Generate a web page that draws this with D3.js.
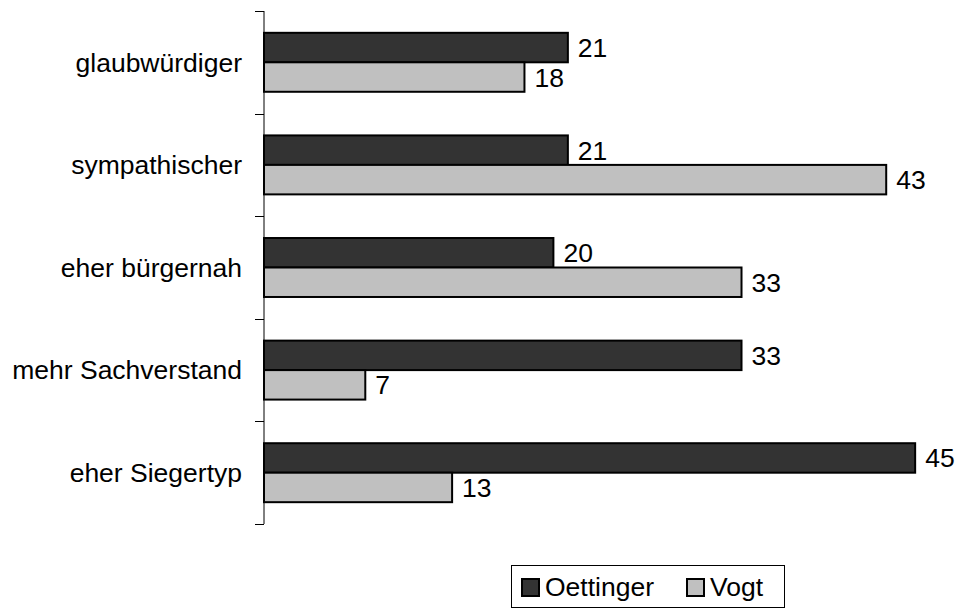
<!DOCTYPE html>
<html><head><meta charset="utf-8">
<script src="https://cdn.jsdelivr.net/npm/d3@7"></script>
<style>body{margin:0;background:#fff}svg{display:block}text{font-family:"Liberation Sans",Arial,sans-serif}</style>
</head><body>
<svg id="c" width="959" height="610"></svg>
<script>
const categories = ["glaubwürdiger","sympathischer","eher bürgernah","mehr Sachverstand","eher Siegertyp"];
const oettinger = [21,21,20,33,45];
const vogt = [18,43,33,7,13];
const seriesNames = ["Oettinger","Vogt"];
const colors = ["#333333","#c0c0c0"];

const svg = d3.select("#c");
const x0 = 264, xMax = 45, fs = 26.5;
const x = d3.scaleLinear().domain([0, xMax]).range([x0, x0 + 14.47*xMax]);
const y = d3.scaleBand().domain(categories).range([11, 524]).paddingInner(0).paddingOuter(0);
const inner = d3.scaleBand().domain(seriesNames).range([0, y.bandwidth()]).paddingInner(0).paddingOuter(0.74);

// axis line and ticks
svg.append("line").attr("x1",x0).attr("x2",x0).attr("y1",11).attr("y2",524).attr("stroke","#000").attr("stroke-width",1);
const tickPos = categories.map(c=>y(c)).concat([y(categories[categories.length-1])+y.bandwidth()]);
svg.selectAll("line.tick").data(tickPos).join("line").attr("class","tick")
  .attr("x1",x0-9).attr("x2",x0).attr("y1",d=>Math.round(d)+0.5).attr("y2",d=>Math.round(d)+0.5)
  .attr("stroke","#000").attr("stroke-width",1);

// category labels
svg.selectAll("text.cat").data(categories).join("text").attr("class","cat")
  .attr("x",242).attr("y",d=>y(d)+y.bandwidth()/2).attr("dy","0.35em")
  .attr("text-anchor","end").attr("font-size",fs).attr("fill","#000").text(d=>d);

const rows = [];
categories.forEach((c,i)=>{
  rows.push({c, s:"Oettinger", v:oettinger[i], col:colors[0]});
  rows.push({c, s:"Vogt", v:vogt[i], col:colors[1]});
});

svg.selectAll("rect.bar").data(rows).join("rect").attr("class","bar")
  .attr("x",x(0)).attr("y",d=>y(d.c)+inner(d.s))
  .attr("width",d=>x(d.v)-x(0)).attr("height",inner.bandwidth())
  .attr("fill",d=>d.col).attr("stroke","#000").attr("stroke-width",2);

svg.selectAll("text.val").data(rows).join("text").attr("class","val")
  .attr("x",d=>x(d.v)+10).attr("y",d=>y(d.c)+inner(d.s)+inner.bandwidth()/2).attr("dy","0.36em")
  .attr("font-size",fs).attr("fill","#000").text(d=>d.v);

// legend
const lg = svg.append("g");
lg.append("rect").attr("x",511.5).attr("y",565.5).attr("width",273).attr("height",42)
  .attr("fill","#fff").attr("stroke","#000").attr("stroke-width",1);
const items = [{n:seriesNames[0],c:colors[0],x:521},{n:seriesNames[1],c:colors[1],x:686}];
lg.selectAll("rect.sw").data(items).join("rect").attr("class","sw")
  .attr("x",d=>d.x+1).attr("y",579).attr("width",17).attr("height",17)
  .attr("fill",d=>d.c).attr("stroke","#000").attr("stroke-width",2);
lg.selectAll("text.lt").data(items).join("text").attr("class","lt")
  .attr("x",d=>d.x+24).attr("y",587).attr("dy","0.35em")
  .attr("font-size",fs).attr("fill","#000").text(d=>d.n);
</script>
</body></html>
